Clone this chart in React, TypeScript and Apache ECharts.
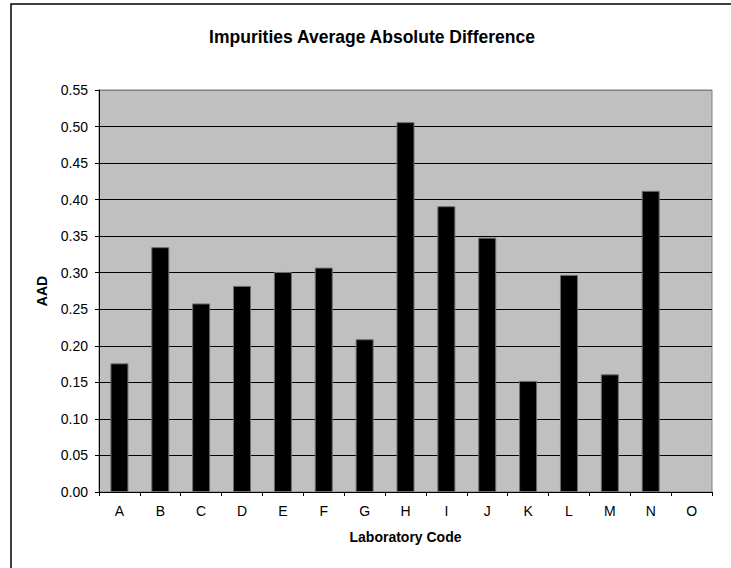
import React, { useEffect, useRef } from "react";
import * as echarts from "echarts";

const categories = ["A", "B", "C", "D", "E", "F", "G", "H", "I", "J", "K", "L", "M", "N", "O"];
const aadValues: (number | null)[] = [0.176, 0.335, 0.258, 0.282, 0.301, 0.307, 0.209, 0.506, 0.391, 0.348, 0.152, 0.297, 0.161, 0.412, null];
const titleText = "Impurities Average Absolute Difference";
const xAxisName = "Laboratory Code";
const yAxisName = "AAD";

const FONT = "'Liberation Sans', Arial, sans-serif";

export default function App() {
  const ref = useRef<HTMLDivElement>(null);
  useEffect(() => {
    if (!ref.current) return;
    const chart = echarts.init(ref.current, null, { renderer: "svg" });
    const splitColors = Array.from({ length: 12 }, (_, i) => (i === 11 ? "#808080" : "#000000"));
    chart.setOption({
      animation: false,
      backgroundColor: "#ffffff",
      textStyle: { fontFamily: FONT },
      title: {
        text: titleText,
        left: 372,
        top: 28,
        padding: 0,
        textAlign: "center",
        textStyle: { fontFamily: FONT, fontSize: 17.5, fontWeight: "bold", color: "#000" },
      },
      graphic: [
        {
          type: "rect",
          shape: { x: 11, y: 4, width: 740, height: 600 },
          style: { fill: "none", stroke: "#000", lineWidth: 1.5 },
          silent: true,
        },
      ],
      grid: {
        left: 99,
        top: 90,
        right: 19,
        bottom: 76,
        show: true,
        backgroundColor: "#C0C0C0",
        borderColor: "#808080",
        borderWidth: 1,
      },
      xAxis: {
        type: "category",
        data: categories,
        name: xAxisName,
        nameLocation: "middle",
        nameGap: 38,
        nameTextStyle: { fontFamily: FONT, fontSize: 14, fontWeight: "bold", color: "#000" },
        axisLine: { lineStyle: { color: "#000", width: 1 } },
        axisTick: { show: true, length: 4, lineStyle: { color: "#000" } },
        axisLabel: { fontFamily: FONT, fontSize: 14, color: "#000", margin: 12 },
        splitLine: { show: false },
      },
      yAxis: {
        type: "value",
        min: 0,
        max: 0.55,
        interval: 0.05,
        name: yAxisName,
        nameLocation: "middle",
        nameRotate: 90,
        nameGap: 50,
        nameTextStyle: { fontFamily: FONT, fontSize: 14, fontWeight: "bold", color: "#000" },
        axisLine: { show: true, lineStyle: { color: "#000", width: 1 } },
        axisTick: { show: true, length: 4, lineStyle: { color: "#000" } },
        axisLabel: {
          fontFamily: FONT,
          fontSize: 14,
          color: "#000",
          margin: 11,
          formatter: (v: number) => v.toFixed(2),
        },
        splitLine: { show: true, lineStyle: { color: splitColors, width: 1 } },
      },
      series: [
        {
          type: "bar",
          data: aadValues,
          barWidth: 18,
          itemStyle: { color: "#000", borderColor: "#6e6e6e", borderWidth: 1 },
        },
      ],
    });
    return () => chart.dispose();
  }, []);
  return (
    <div
      ref={ref}
      style={{ position: "fixed", left: 0, top: 0, width: 731, height: 568 }}
    />
  );
}
